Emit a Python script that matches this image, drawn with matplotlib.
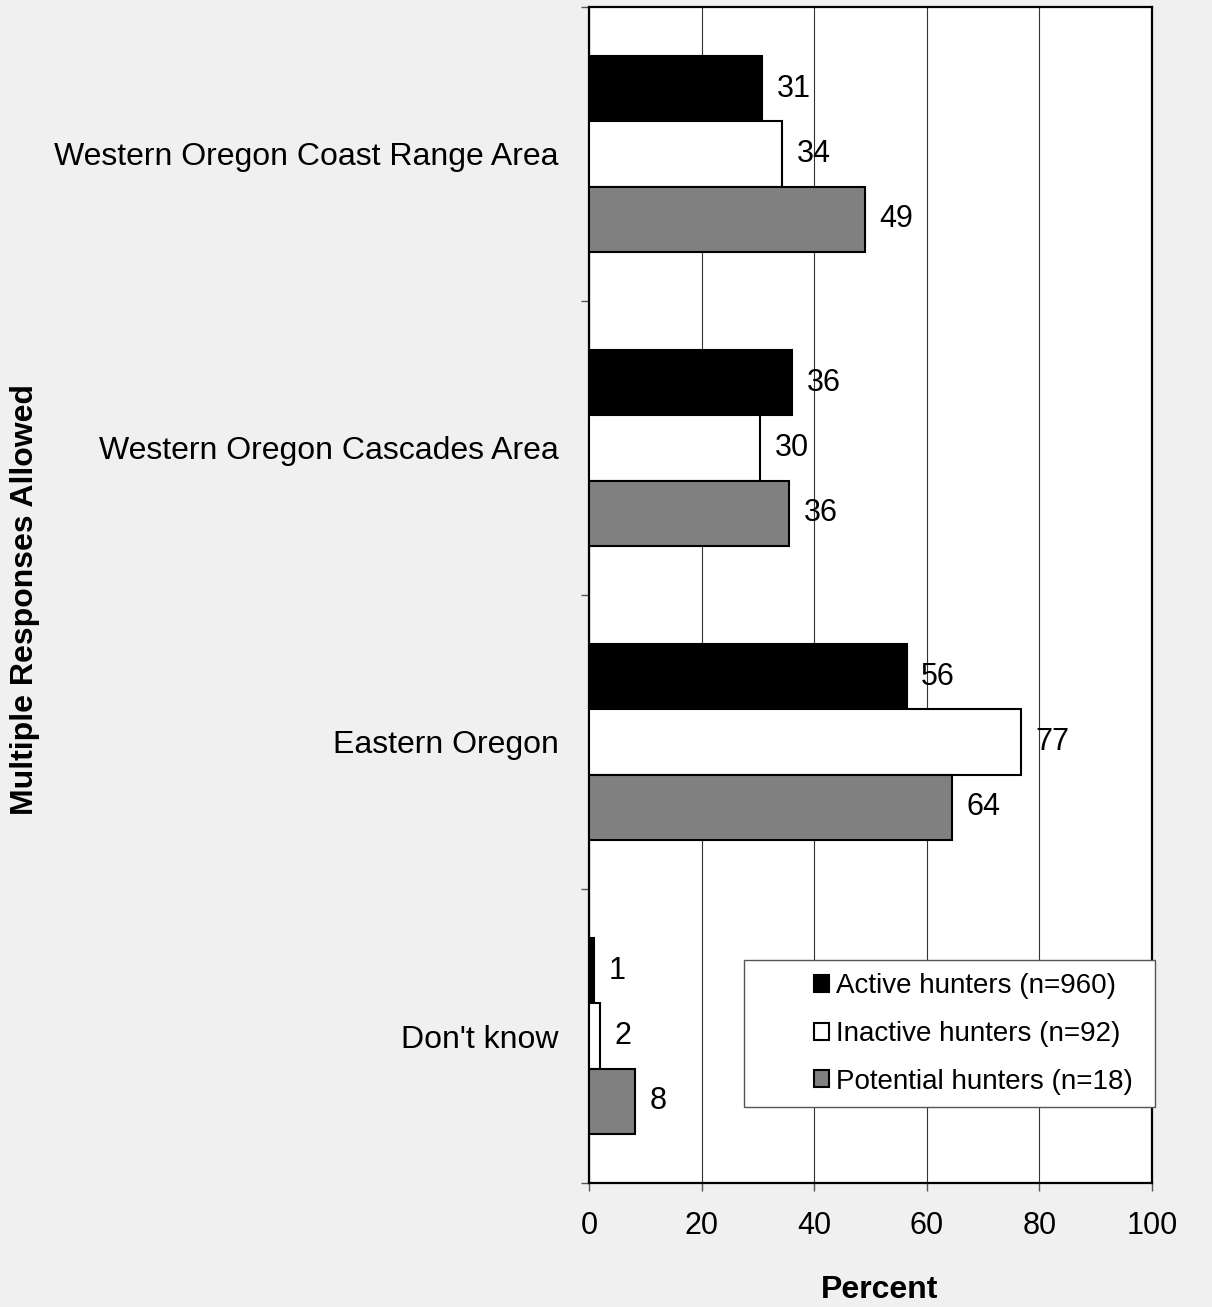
"""Zones de chasse souhaitées — barres horizontales groupées par type de chasseur."""
import matplotlib
matplotlib.use("Agg")
import matplotlib.pyplot as plt
from matplotlib.patches import Rectangle
import numpy as np

plt.rcParams["font.family"] = ["Liberation Sans", "DejaVu Sans"]

categories = [
    "Western Oregon Coast Range Area",
    "Western Oregon Cascades Area",
    "Eastern Oregon",
    "Don't know",
]
series_names = [
    "Active hunters (n=960)",
    "Inactive hunters (n=92)",
    "Potential hunters (n=18)",
]
active = [30.7, 36.1, 56.4, 0.8]
inactive = [34.3, 30.4, 76.7, 2.0]
potential = [49.0, 35.6, 64.4, 8.1]
series = [active, inactive, potential]
colors = ["#000000", "#ffffff", "#808080"]

W, H = 1212, 1307
fig = plt.figure(figsize=(W / 100, H / 100), dpi=100, facecolor="#f0f0f0")
ax = fig.add_axes([589 / W, 1 - 1183 / H, 563 / W, 1176 / H])
ax.set_facecolor("white")

n = len(categories)
y = np.arange(n)
bar_h = 0.222
for k, (vals, col) in enumerate(zip(series, colors)):
    pos = y + (k - 1) * bar_h
    ax.barh(pos, vals, height=bar_h, color=col, edgecolor="black",
            linewidth=1.5, label=series_names[k], zorder=3)
    for p, v in zip(pos, vals):
        ax.text(v + 2.6, p, f"{v:.0f}", va="center", ha="left",
                fontsize=22, zorder=4)

ax.set_xlim(0, 100)
ax.set_ylim(n - 0.5, -0.5)
ax.set_xticks([0, 20, 40, 60, 80, 100])
ax.tick_params(axis="x", labelsize=22, length=6, width=1, color="#555555", pad=14)
ax.xaxis.grid(True, color="#333333", linewidth=0.8, zorder=0)

# catégories centrées, petites graduations aux limites des groupes
ax.set_yticks(y)
ax.set_yticklabels(categories, fontsize=23)
ax.tick_params(axis="y", which="major", length=0, pad=22)
ax.set_yticks(np.arange(n + 1) - 0.5, minor=True)
ax.tick_params(axis="y", which="minor", length=6, width=1, color="#555555")

for s in ax.spines.values():
    s.set_linewidth(1.6)

fig.text(880 / W, 1 - 1290 / H, "Percent", fontsize=23, fontweight="bold",
         ha="center", va="center")
fig.text(25 / W, 1 - 600 / H, "Multiple Responses Allowed", rotation=90,
         fontsize=23, fontweight="bold", ha="center", va="center")

# cadre de légende dessiné à part, légende sans cadre à l'intérieur
ax.add_patch(Rectangle((744 / W, 1 - 1107 / H), 411 / W, 147 / H,
                       transform=fig.transFigure, facecolor="white",
                       edgecolor="#555555", linewidth=1, zorder=5,
                       clip_on=False))
leg = ax.legend(loc="center left", bbox_to_anchor=(814 / W, 1 - 1034 / H),
                bbox_transform=fig.transFigure, fontsize=20, frameon=False,
                handlelength=0.55, handleheight=0.55, handletextpad=0.25,
                labelspacing=0.78, borderpad=0, borderaxespad=0)
leg.set_zorder(6)

fig.savefig("out.png", dpi=100, facecolor=fig.get_facecolor())
